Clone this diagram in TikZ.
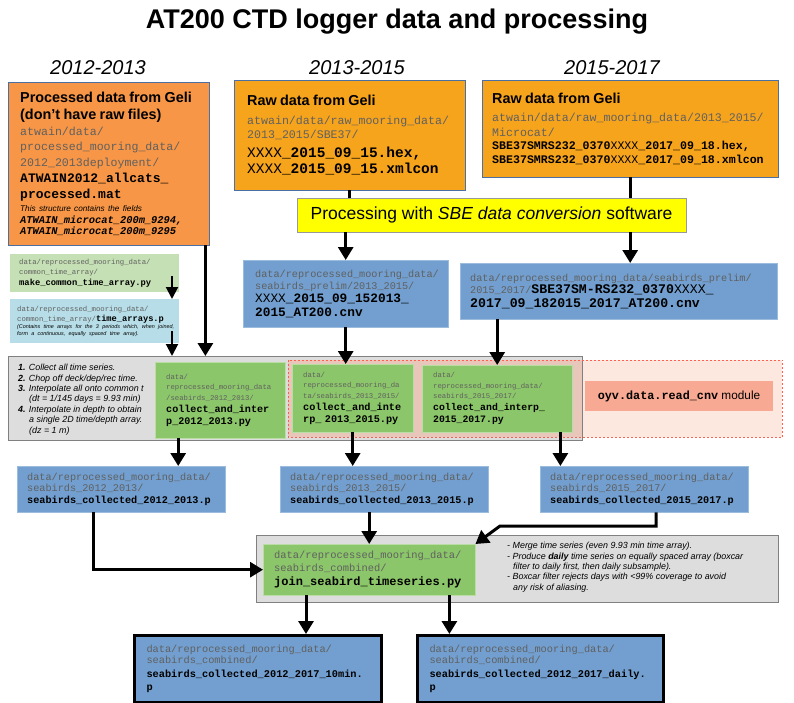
\documentclass[tikz,border=0pt]{standalone}
\usepackage{fontspec}
\setmainfont{Liberation Sans}
\setmonofont{Liberation Mono}
\usetikzlibrary{arrows.meta, calc}

\definecolor{procorange}{HTML}{F79646}
\definecolor{raworange}{HTML}{F7A41D}
\definecolor{edgeblue}{HTML}{4A6FA5}
\definecolor{fileblue}{HTML}{729FCF}
\definecolor{scriptgreen}{HTML}{8CC66A}
\definecolor{helpgreen}{HTML}{C5E0B4}
\definecolor{timecyan}{HTML}{B7DEE8}
\definecolor{panelgray}{HTML}{DDDDDD}
\definecolor{paneledge}{HTML}{808080}
\definecolor{modpink}{HTML}{FDE8E0}
\definecolor{modoverlap}{HTML}{E8C6BA}
\definecolor{modred}{HTML}{FF5F4F}
\definecolor{modsalmon}{HTML}{F8A993}
\definecolor{sbeyellow}{HTML}{FFFF00}
\definecolor{pathgray}{HTML}{606060}

\newcommand{\fsz}[2]{\fontsize{#1}{#2}\selectfont}

\begin{document}
\begin{tikzpicture}[x=1pt, y=-1pt, font=\fsz{10}{12},
      cell/.style={anchor=north west, align=left, inner ysep=1pt},
      procsrc/.style={cell, draw=edgeblue, fill=procorange},
      rawsrc/.style={cell, draw=edgeblue, fill=raworange},
      datafile/.style={cell, draw=fileblue!70!white, fill=fileblue},
      finalfile/.style={cell, draw=black, line width=3pt, fill=fileblue},
      script/.style={cell, draw=scriptgreen!60!white, fill=scriptgreen},
      helper/.style={cell, fill=helpgreen},
      timefile/.style={cell, fill=timecyan},
      panel/.style={anchor=north west, fill=panelgray, inner sep=0pt},
      bigarrow/.style={line width=3pt, -{Triangle[length=13pt, width=15pt]}},
      smallarrow/.style={line width=2pt, -{Triangle[length=12pt, width=12pt]}},
      feed/.style={line width=3pt}
    ]
    \useasboundingbox (0,0) rectangle (794,703);

    % Title and the three deployment periods
    \node[font=\bfseries\fsz{27}{30}] (title) at (397,22) {AT200 CTD logger data and processing};
    \node[font=\itshape\fsz{20}{22}] (per1) at (98,68)  {2012-2013};
    \node[font=\itshape\fsz{20}{22}] (per2) at (357,68) {2013-2015};
    \node[font=\itshape\fsz{20}{22}] (per3) at (612,68) {2015-2017};

    % Source data from Geli
    \node[procsrc, text width=177pt, inner xsep=12pt, minimum height=163pt] (procA) at (8,82) {%
      {\bfseries\fsz{14.4}{17.5}Processed data from Geli\\(don't have raw files)\par}
      {\color{pathgray}\ttfamily\fsz{11.6}{15.5}atwain/data/\\processed\_mooring\_data/\\2012\_2013deployment/\par}
      {\ttfamily\bfseries\fsz{13}{16}ATWAIN2012\_allcats\_\\processed.mat\par}
      {\itshape\fsz{8.2}{13.5}This structure contains the fields\par}
      {\ttfamily\bfseries\itshape\fsz{10.4}{11.5}ATWAIN\_microcat\_200m\_9294,\\ATWAIN\_microcat\_200m\_9295\par}};
    \node[rawsrc, text width=205pt, inner xsep=13pt, minimum height=110pt] (rawB) at (234,80) {%
      {\bfseries\fsz{14.4}{17}Raw data from Geli\par}\vspace{4pt}
      {\color{pathgray}\ttfamily\fsz{11.6}{14.5}atwain/data/raw\_mooring\_data/\\2013\_2015/SBE37/\par}\vspace{2pt}
      {\ttfamily\fsz{14.5}{16.5}XXXX\textbf{\_2015\_09\_15.hex,}\\XXXX\textbf{\_2015\_09\_15.xmlcon}\par}};
    \node[rawsrc, text width=276pt, inner xsep=10pt, minimum height=97pt] (rawC) at (482,80) {%
      {\bfseries\fsz{14.4}{17}Raw data from Geli\par}\vspace{3pt}
      {\color{pathgray}\ttfamily\fsz{11.6}{15}atwain/data/raw\_mooring\_data/2013\_2015/\\Microcat/\par}
      {\ttfamily\bfseries\fsz{11.6}{13.5}SBE37SMRS232\_0370\textmd{XXXX}\_2017\_09\_18.hex,\\SBE37SMRS232\_0370\textmd{XXXX}\_2017\_09\_18.xmlcon\par}};

    \node[draw=black!40, fill=sbeyellow, minimum width=389pt, minimum height=34pt,
          font=\fsz{17.5}{20}] (sbe) at (491.5,215) {Processing with \emph{SBE data conversion} software};

    % Common time array helpers
    \node[helper, text width=151pt, inner xsep=9pt, minimum height=38pt] (common) at (10,254) {%
      {\color{pathgray}\ttfamily\fsz{7.3}{10}data/reprocessed\_mooring\_data/\\common\_time\_array/\par}
      {\ttfamily\bfseries\fsz{8.8}{10.5}make\_common\_time\_array.py\par}};
    \node[timefile, text width=155pt, inner xsep=7pt, minimum height=44pt] (timearr) at (10,299) {%
      {\color{pathgray}\ttfamily\fsz{7.3}{10}data/reprocessed\_mooring\_data/\\common\_time\_array/{\color{black}\bfseries\fsz{8.7}{10}time\_arrays.p}\par}
      {\itshape\fsz{5.4}{7}\mbox{(Contains time arrays for the 3 periods which, when joined,}\\\mbox{form a continuous, equally spaced time array).}\par}};

    % Converted cnv files
    \node[datafile, text width=181pt, inner xsep=12pt, minimum height=67pt] (cnvD) at (243,260) {%
      {\color{pathgray}\ttfamily\fsz{10.2}{12}data/reprocessed\_mooring\_data/\\seabirds\_prelim/2013\_2015/\par}
      {\ttfamily\fsz{12.8}{13.5}XXXX\textbf{\_2015\_09\_152013\_}\\\textbf{2015\_AT200.cnv}\par}};
    \node[datafile, text width=297pt, inner xsep=10pt, minimum height=56pt] (cnvE) at (460,263) {%
      {\color{pathgray}\ttfamily\fsz{10.2}{12}data/reprocessed\_mooring\_data/seabirds\_prelim/\\2015\_2017/{\color{black}\fsz{13.2}{12}\textbf{SBE37SM-RS232\_0370}XXXX\textbf{\_}}\par}
      {\ttfamily\bfseries\fsz{13.2}{14}2017\_09\_182015\_2017\_AT200.cnv\par}};

    % Collect and interpolate panel, with the read_cnv zone
    \node[panel, minimum width=574pt, minimum height=84pt] (stepsbg) at (8,356) {};
    \node[anchor=north west, fill=modpink, inner sep=0pt, minimum width=494pt, minimum height=77pt] (modzone) at (288,360) {};
    \fill[modoverlap] (modzone.north west) rectangle (modzone.south west -| stepsbg.east);
    \draw[paneledge] (stepsbg.north west) rectangle (stepsbg.south east);
    \draw[modred, line width=1pt, dash pattern=on 2pt off 2pt] (modzone.north west) rectangle (modzone.south east);

    \node[anchor=north west, align=left, inner sep=0pt, font=\itshape\fsz{8.9}{10.4}] (steps) at (18,364) {%
      \textbf{1.} Collect all time series.\\
      \textbf{2.} Chop off deck/dep/rec time.\\
      \textbf{3.} Interpolate all onto common t\\
      \hspace*{11pt}(dt = 1/145 days = 9.93 min)\\
      \textbf{4.} Interpolate in depth to obtain\\
      \hspace*{11pt}a single 2D time/depth array.\\
      \hspace*{11pt}(dz = 1 m)};

    \node[script, text width=108pt, inner xsep=11pt, minimum height=76pt] (colF) at (155,362) {%
      {\color{pathgray}\ttfamily\fsz{7.3}{10.5}data/\\reprocessed\_mooring\_data\\/seabirds\_2012\_2013/\par}
      {\ttfamily\bfseries\fsz{10.1}{12}collect\_and\_inter\\p\_2012\_2013.py\par}};
    \node[script, text width=99pt, inner xsep=11pt, minimum height=68pt] (colG) at (292,364) {%
      {\color{pathgray}\ttfamily\fsz{7.3}{10.5}data/\\reprocessed\_mooring\_da\\ta/seabirds\_2013\_2015/\par}
      {\ttfamily\bfseries\fsz{10.2}{12}collect\_and\_inte\\rp\_~2013\_2015.py\par}};
    \node[script, text width=128pt, inner xsep=11pt, minimum height=67pt] (colH) at (422,365) {%
      {\color{pathgray}\ttfamily\fsz{7.3}{10.5}data/\\reprocessed\_mooring\_data/\\seabirds\_2015\_2017/\par}
      {\ttfamily\bfseries\fsz{9.8}{12}collect\_and\_interp\_\\2015\_2017.py\par}};
    \node[fill=modsalmon, minimum width=188pt, minimum height=30pt, font=\fsz{11.8}{14}] (readcnv) at (679,396)
      {{\ttfamily\bfseries oyv.data.read\_cnv} module};

    % Collected files per period
    \node[datafile, text width=188pt, inner xsep=10pt, minimum height=46pt] (segI) at (17,466) {%
      {\color{pathgray}\ttfamily\fsz{10.2}{11}data/reprocessed\_mooring\_data/\\seabirds\_2012\_2013/\par}
      {\ttfamily\bfseries\fsz{10.2}{12}seabirds\_collected\_2012\_2013.p\par}};
    \node[datafile, text width=188pt, inner xsep=10pt, minimum height=46pt] (segJ) at (280,466) {%
      {\color{pathgray}\ttfamily\fsz{10.2}{11}data/reprocessed\_mooring\_data/\\seabirds\_2013\_2015/\par}
      {\ttfamily\bfseries\fsz{10.2}{12}seabirds\_collected\_2013\_2015.p\par}};
    \node[datafile, text width=188pt, inner xsep=10pt, minimum height=46pt] (segK) at (540,466) {%
      {\color{pathgray}\ttfamily\fsz{10.2}{11}data/reprocessed\_mooring\_data/\\seabirds\_2015\_2017/\par}
      {\ttfamily\bfseries\fsz{10.2}{12}seabirds\_collected\_2015\_2017.p\par}};

    % Joining step
    \node[panel, draw=paneledge, minimum width=522pt, minimum height=67pt] (mergebg) at (256,535) {};
    \node[script, text width=190pt, inner xsep=11pt, minimum height=51pt] (join) at (263,544) {%
      {\color{pathgray}\ttfamily\fsz{10.4}{13}data/reprocessed\_mooring\_data/\\seabirds\_combined/\par}
      {\ttfamily\bfseries\fsz{12}{13.5}join\_seabird\_timeseries.py\par}};
    \node[anchor=north west, align=left, inner sep=0pt, font=\itshape\fsz{8.9}{10.4}] (notes) at (507,542) {%
      - Merge time series (even 9.93 min time array).\\
      - Produce \textbf{daily} time series on equally spaced array (boxcar\\
      \hspace*{6pt}filter to daily first, then daily subsample).\\
      - Boxcar filter rejects days with <99\% coverage to avoid\\
      \hspace*{6pt}any risk of aliasing.};

    % Final products
    \node[finalfile, text width=223pt, inner xsep=12pt, minimum height=67pt] (fin10) at (133,634) {%
      {\color{pathgray}\ttfamily\fsz{10.3}{11.5}data/reprocessed\_mooring\_data/\\seabirds\_combined/\par}
      {\ttfamily\bfseries\fsz{10.3}{13.5}seabirds\_collected\_2012\_2017\_10min.\\p\par}};
    \node[finalfile, text width=222pt, inner xsep=12pt, minimum height=67pt] (finday) at (416,634) {%
      {\color{pathgray}\ttfamily\fsz{10.3}{11.5}data/reprocessed\_mooring\_data/\\seabirds\_combined/\par}
      {\ttfamily\bfseries\fsz{10.3}{13.5}seabirds\_collected\_2012\_2017\_daily.\\p\par}};

    % Connectors: conversion
    \draw[feed] (rawB.south) -- (rawB.south |- sbe.north);
    \draw[feed] (rawC.south) -- (rawC.south |- sbe.north);
    \draw[bigarrow] (cnvD.north |- sbe.south) -- (cnvD.north);
    \draw[bigarrow] (rawC.south |- sbe.south) -- (rawC.south |- cnvE.north);

    % Connectors: into the collect panel
    \coordinate (ct1) at (172,276);
    \coordinate (ct2) at (172,331);
    \draw[smallarrow] (ct1) -- (ct1 |- timearr.north);
    \draw[smallarrow] (ct2) -- (ct2 |- stepsbg.north);
    \draw[bigarrow] ([xshift=-4pt]procA.south east) -- ([xshift=-4pt]procA.south east |- stepsbg.north);
    \draw[bigarrow] (cnvD.south) -- (cnvD.south |- colG.north);
    \draw[bigarrow] (colH.north |- cnvE.south) -- (colH.north);

    % Connectors: collected files
    \draw[bigarrow] ([xshift=-42pt]colF.south) -- ([xshift=-42pt]colF.south |- segI.north);
    \draw[bigarrow] (colG.south) -- (colG.south |- segJ.north);
    \draw[bigarrow] ([xshift=-12pt]colH.south east) -- ([xshift=-12pt]colH.south east |- segK.north);

    % Connectors: join and outputs
    \coordinate (kbend) at (500,526);
    \draw[bigarrow] ([xshift=-28pt]segI.south) |- (join.west);
    \draw[bigarrow] (join.north |- segJ.south) -- (join.north);
    \draw[bigarrow] ([xshift=12pt]segK.south) |- (kbend) -- (join.north east);
    \draw[bigarrow] ([xshift=43pt]join.south west) -- ([xshift=43pt]join.south west |- fin10.north);
    \draw[bigarrow] ([xshift=-26pt]join.south east) -- ([xshift=-26pt]join.south east |- finday.north);
  \end{tikzpicture}
\end{document}
